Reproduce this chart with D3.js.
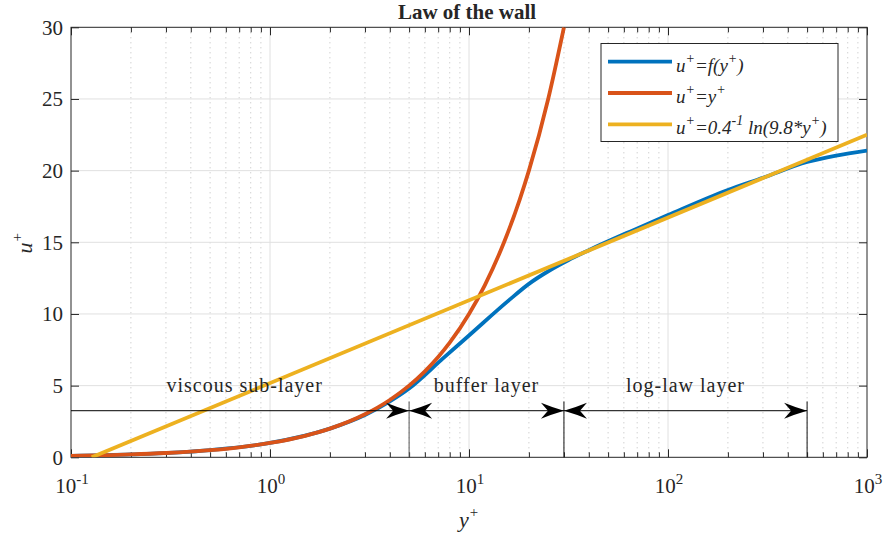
<!DOCTYPE html>
<html>
<head>
<meta charset="utf-8">
<script src="https://cdn.jsdelivr.net/npm/d3@7"></script>
<style>
  body { margin: 0; background: #fff; }
  text { font-family: "Liberation Serif", "Times New Roman", serif; fill: #262626; }
</style>
</head>
<body>
<svg id="chart" width="883" height="540"></svg>
<script>
// data
const fYPlus = [0.1, 0.2, 0.5, 1, 2, 3, 4, 5, 7.4, 10, 16, 20, 25.5, 31.5, 40, 67, 100, 200, 300, 500, 700, 1000];
const fUPlus = [0.1, 0.2, 0.5, 1, 2, 2.95, 3.9, 4.8, 6.9, 8.5, 11.0, 12.1, 13.05, 13.75, 14.45, 15.85, 16.9, 18.65, 19.5, 20.6, 21.05, 21.4];
const linYPlus = [0.1, 0.15, 0.2, 0.3, 0.5, 0.7, 1, 1.5, 2, 3, 4, 5, 6, 7, 8, 10, 12, 15, 18, 20, 25, 30];
const linUPlus = [0.1, 0.15, 0.2, 0.3, 0.5, 0.7, 1, 1.5, 2, 3, 4, 5, 6, 7, 8, 10, 12, 15, 18, 20, 25, 30];
const logYPlus = [0.127, 1000];
const logUPlus = [0, 22.5];

const regionEdges = [0.1, 5, 30, 500];
const regionLabels = ['viscous sub-layer', 'buffer layer', 'log-law layer'];
const arrowU = 3.25;
const edgeTopU = 3.9;
const labelU = 4.55;

const yTicks = [0, 5, 10, 15, 20, 25, 30];
const xDecades = [0.1, 1, 10, 100, 1000];
const xExponents = ['-1', '0', '1', '2', '3'];

const colors = ['#0072BD', '#D95319', '#EDB120'];

const mLeft = 71, mRight = 867, mTop = 27.3, mBottom = 457.3;
const svg = d3.select('#chart');

const x = d3.scaleLog().domain([0.1, 1000]).range([mLeft, mRight]);
const y = d3.scaleLinear().domain([0, 30]).range([mBottom, mTop]);

svg.append('defs').append('clipPath').attr('id', 'clip')
  .append('rect')
  .attr('x', mLeft).attr('y', mTop)
  .attr('width', mRight - mLeft).attr('height', mBottom - mTop);

// grid
const minor = x.ticks().filter((d) => !xDecades.some((p) => Math.abs(d - p) < 1e-9));
const grid = svg.append('g');
grid.selectAll('line.minor')
  .data(minor)
  .enter().append('line')
  .attr('x1', (d) => x(d)).attr('x2', (d) => x(d))
  .attr('y1', mTop).attr('y2', mBottom)
  .attr('stroke', '#bdbdbd').attr('stroke-width', 1)
  .attr('stroke-dasharray', '1,4');
grid.selectAll('line.vmajor')
  .data(xDecades.slice(1, -1))
  .enter().append('line')
  .attr('x1', (d) => x(d)).attr('x2', (d) => x(d))
  .attr('y1', mTop).attr('y2', mBottom)
  .attr('stroke', '#e0e0e0').attr('stroke-width', 1);
grid.selectAll('line.hmajor')
  .data(yTicks.slice(1, -1))
  .enter().append('line')
  .attr('x1', mLeft).attr('x2', mRight)
  .attr('y1', (d) => y(d)).attr('y2', (d) => y(d))
  .attr('stroke', '#e0e0e0').attr('stroke-width', 1);

// axes with inward ticks
function styleAxis(g) {
  g.select('.domain').remove();
  g.selectAll('.tick line').attr('stroke', '#262626');
}
svg.append('g').attr('transform', `translate(0,${mBottom})`)
  .call(d3.axisBottom(x).tickValues(xDecades).tickSize(-8).tickFormat(''))
  .call(styleAxis);
svg.append('g').attr('transform', `translate(0,${mBottom})`)
  .call(d3.axisBottom(x).tickValues(minor).tickSize(-5).tickFormat(''))
  .call(styleAxis);
svg.append('g').attr('transform', `translate(0,${mTop})`)
  .call(d3.axisTop(x).tickValues(xDecades).tickSize(-8).tickFormat(''))
  .call(styleAxis);
svg.append('g').attr('transform', `translate(0,${mTop})`)
  .call(d3.axisTop(x).tickValues(minor).tickSize(-5).tickFormat(''))
  .call(styleAxis);
const yAxis = svg.append('g').attr('transform', `translate(${mLeft},0)`)
  .call(d3.axisLeft(y).tickValues(yTicks).tickSize(-8).tickPadding(8))
  .call(styleAxis);
yAxis.selectAll('.tick text')
  .style('font-family', '"Liberation Serif", serif')
  .style('font-size', '21px').attr('fill', '#262626');
svg.append('g').attr('transform', `translate(${mRight},0)`)
  .call(d3.axisRight(y).tickValues(yTicks).tickSize(-8).tickFormat(''))
  .call(styleAxis);

svg.selectAll('text.xlab')
  .data(xDecades)
  .enter().append('text')
  .attr('class', 'xlab')
  .attr('x', (d) => x(d) + 1)
  .attr('y', 492.5)
  .attr('text-anchor', 'middle')
  .style('font-size', '21px')
  .each(function (d, i) {
    const t = d3.select(this);
    t.append('tspan').text('10');
    t.append('tspan').attr('dy', -9).style('font-size', '15px').text(xExponents[i]);
  });

svg.append('rect')
  .attr('x', mLeft).attr('y', mTop)
  .attr('width', mRight - mLeft).attr('height', mBottom - mTop)
  .attr('fill', 'none').attr('stroke', '#262626').attr('stroke-width', 1);

// curves
const series = [
  d3.zip(fYPlus, fUPlus),
  d3.zip(linYPlus, linUPlus),
  d3.zip(logYPlus, logUPlus)
];
const line = d3.line()
  .x((d) => x(d[0]))
  .y((d) => y(d[1]))
  .curve(d3.curveMonotoneX);

const curves = svg.append('g').attr('clip-path', 'url(#clip)');
curves.selectAll('path')
  .data(series)
  .enter().append('path')
  .attr('d', line)
  .attr('fill', 'none')
  .attr('stroke', (_, i) => colors[i])
  .attr('stroke-width', 3.8)
  .attr('stroke-linejoin', 'round');

// region annotations
const ann = svg.append('g');
ann.selectAll('line.edge')
  .data(regionEdges.slice(1))
  .enter().append('line')
  .attr('x1', (d) => x(d)).attr('x2', (d) => x(d))
  .attr('y1', y(0)).attr('y2', y(edgeTopU))
  .attr('stroke', (_, i) => i === 0 ? '#555' : '#111').attr('stroke-width', 1);
ann.append('line')
  .attr('x1', x(regionEdges[0])).attr('x2', x(regionEdges[3]))
  .attr('y1', y(arrowU)).attr('y2', y(arrowU))
  .attr('stroke', '#000').attr('stroke-width', 1);

function head(px, py, dir) {
  const L = 23, W = 8, N = 16;
  return `M${px},${py}` +
    `Q${px - dir * 12},${py - 3.5} ${px - dir * L},${py - W}` +
    `L${px - dir * N},${py}` +
    `L${px - dir * L},${py + W}` +
    `Q${px - dir * 12},${py + 3.5} ${px},${py}Z`;
}
const heads = [
  [regionEdges[1], 1],
  [regionEdges[1], -1],
  [regionEdges[2], 1],
  [regionEdges[2], -1],
  [regionEdges[3], 1]
];
ann.selectAll('path.head')
  .data(heads)
  .enter().append('path')
  .attr('d', (d) => head(x(d[0]), y(arrowU), d[1]))
  .attr('fill', '#000');

ann.selectAll('text.region')
  .data(regionLabels)
  .enter().append('text')
  .attr('x', (d, i) => i === 0 ? 244.7 : (x(regionEdges[i]) + x(regionEdges[i + 1])) / 2)
  .attr('y', y(labelU))
  .attr('text-anchor', 'middle')
  .style('font-size', '20px')
  .style('letter-spacing', '1px')
  .attr('fill', '#111')
  .text((d) => d);

// legend
const legendItems = [
  [['u', 0], ['+', 1], ['=f(y', 0], ['+', 1], [')', 0]],
  [['u', 0], ['+', 1], ['=y', 0], ['+', 1]],
  [['u', 0], ['+', 1], ['=0.4', 0], ['-1', 1], [' ln(9.8*y', 0], ['+', 1], [')', 0]]
];
const lg = svg.append('g');
lg.append('rect')
  .attr('x', 601).attr('y', 43.5).attr('width', 237).attr('height', 98)
  .attr('fill', '#fff').attr('stroke', '#262626').attr('stroke-width', 1);
const rows = lg.selectAll('g.row')
  .data(legendItems)
  .enter().append('g')
  .attr('transform', (_, i) => `translate(0,${61.7 + i * 31.3})`);
rows.append('line')
  .attr('x1', 608).attr('x2', 672)
  .attr('stroke', (_, i) => colors[i]).attr('stroke-width', 3.8);
rows.append('text')
  .attr('x', 676).attr('y', 10)
  .style('font-size', '19px').style('font-style', 'italic')
  .attr('fill', '#111')
  .each(function (parts) {
    const t = d3.select(this);
    let raised = false;
    parts.forEach(([s, sup]) => {
      let dy = 0;
      if (sup && !raised) dy = -9;
      if (!sup && raised) dy = 9;
      raised = !!sup;
      t.append('tspan').attr('dy', dy)
        .style('font-size', sup ? '14px' : '19px').text(s);
    });
  });

// titles
svg.append('text')
  .attr('x', 467).attr('y', 19)
  .attr('text-anchor', 'middle')
  .style('font-size', '21px').style('font-weight', 'bold')
  .attr('fill', '#000')
  .text('Law of the wall');

const xl = svg.append('text')
  .attr('x', 469).attr('y', 527)
  .attr('text-anchor', 'middle')
  .style('font-size', '22px').style('font-style', 'italic');
xl.append('tspan').text('y');
xl.append('tspan').attr('dy', -10).style('font-size', '15px').text('+');

const yl = svg.append('text')
  .attr('transform', 'translate(32,243) rotate(-90)')
  .attr('text-anchor', 'middle')
  .style('font-size', '22px').style('font-style', 'italic');
yl.append('tspan').text('u');
yl.append('tspan').attr('dy', -10).style('font-size', '15px').text('+');
</script>
</body>
</html>
